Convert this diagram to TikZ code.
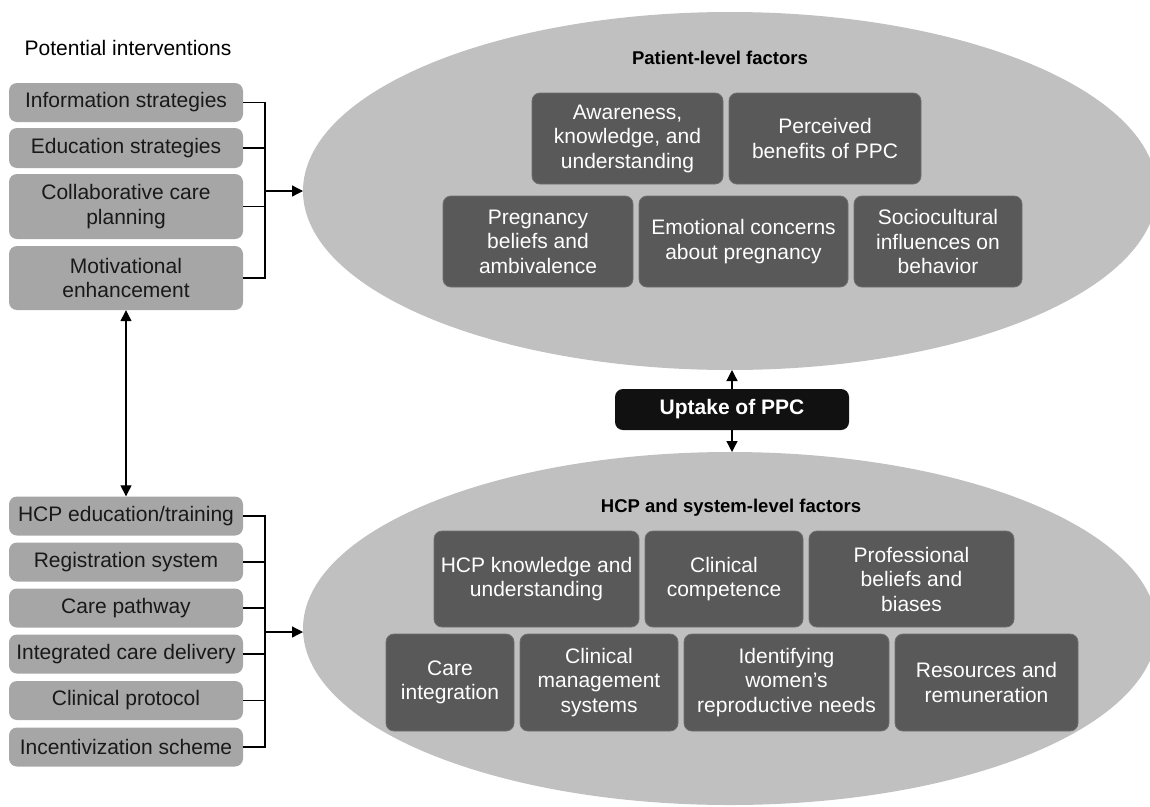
\documentclass[tikz,border=0pt]{standalone}
\usepackage{fontspec}
\setmainfont{Liberation Sans}
\usetikzlibrary{shapes.geometric,arrows.meta,calc}

\definecolor{ovalgray}{HTML}{C0C0C0}
\definecolor{factorgray}{HTML}{595959}
\definecolor{edgegray}{HTML}{6E6E6E}
\definecolor{intgray}{HTML}{A6A6A6}
\definecolor{uptakeblack}{HTML}{111111}

\begin{document}
\begin{tikzpicture}[x=1pt,y=-1pt,
        font=\fontsize{21}{24.5}\selectfont,
        oval/.style={ellipse,fill=ovalgray,inner sep=0pt,outer sep=0pt},
        factor/.style={rounded corners=8pt,fill=factorgray,draw=edgegray,line width=0.8pt,
            text=white,align=center,inner sep=2pt},
        interv/.style={rounded corners=8pt,fill=intgray,text=black!90,align=center,
            minimum width=234pt,inner sep=2pt},
        heading/.style={font=\fontsize{18.5}{22}\selectfont\bfseries},
        link/.style={line width=1.3pt},
        tip/.style={link,-{Triangle[length=11pt,width=11pt]}},
        dtip/.style={link,{Triangle[length=11pt,width=11pt]}-{Triangle[length=11pt,width=11pt]}}]
                        \useasboundingbox (0,0) rectangle (1150,806);
                        % the two factor ovals
                        \node [oval,minimum width=854pt,minimum height=358pt] (patient) at (730,191) {};
                        \node [oval,minimum width=854pt,minimum height=353pt] (hcpf) at (730,628.5) {};
                        \node [heading] (ptitle) at (720,58) {Patient-level factors};
                        \node [heading] (htitle) at (731,508) {HCP and system-level factors};
                        % patient-level factors
                        \node [factor,minimum width=191pt,minimum height=91pt] (aware) at (627.5,138.5) {Awareness,\\knowledge, and\\understanding};
                        \node [factor,minimum width=192pt,minimum height=91pt] (perceiv) at (825,138.5) {Perceived\\benefits of PPC};
                        \node [factor,minimum width=190pt,minimum height=91pt] (pregn) at (538,241.5) {Pregnancy\\beliefs and\\ambivalence};
                        \node [factor,minimum width=209pt,minimum height=91pt] (emot) at (743.5,241.5) {Emotional concerns\\about pregnancy};
                        \node [factor,minimum width=168pt,minimum height=91pt] (socio) at (938,241.5) {Sociocultural\\influences on\\behavior};
                        % HCP and system-level factors
                        \node [factor,minimum width=205pt,minimum height=96pt] (hcpknow) at (536.5,579) {HCP knowledge and\\understanding};
                        \node [factor,minimum width=158pt,minimum height=96pt] (clincomp) at (724,579) {Clinical\\competence};
                        \node [factor,minimum width=205pt,minimum height=96pt] (profbel) at (911.5,579) {Professional\\beliefs and\\biases};
                        \node [factor,minimum width=128pt,minimum height=97pt] (careint) at (450,682.5) {Care\\integration};
                        \node [factor,minimum width=158pt,minimum height=97pt] (clinman) at (599,682.5) {Clinical\\management\\systems};
                        \node [factor,minimum width=205pt,minimum height=97pt] (ident) at (786.5,682.5) {Identifying\\women’s\\reproductive needs};
                        \node [factor,minimum width=183pt,minimum height=97pt] (resour) at (986.5,682.5) {Resources and\\remuneration};
                        % uptake in the middle
                        \node [rounded corners=8pt,fill=uptakeblack,text=white,font=\fontsize{21}{24.5}\selectfont\bfseries,
                            minimum width=234pt,minimum height=41pt] (uptake) at (732,409.5) {Uptake of PPC};
                        \draw [tip] (uptake.north) -- (uptake.north |- patient.south);
                        \draw [tip] (uptake.south) -- (uptake.south |- hcpf.north);
                        % potential interventions
                        \node (ititle) at (128,48) {Potential interventions};
                        \node [interv,minimum height=39pt] (info) at (126,102.5) {Information strategies};
                        \node [interv,minimum height=40pt] (educ) at (126,148) {Education strategies};
                        \node [interv,minimum height=65pt] (collab) at (126,206.5) {Collaborative care\\planning};
                        \node [interv,minimum height=64pt] (motiv) at (126,278) {Motivational\\enhancement};
                        \foreach \n/\y/\t in {hcpedu/516/{HCP education/training},regsys/562/{Registration system},
                            carepath/608/{Care pathway},integr/654/{Integrated care delivery},
                            clinprot/700.5/{Clinical protocol},incent/747/{Incentivization scheme}}
                        {
                            \node [interv,minimum height=39pt] (\n) at (126,\y) {\t};
                        }
                        % brackets and arrows
                        \coordinate (jt) at (265,191);
                        \coordinate (jb) at (265,632);
                        \foreach \b in {info,educ,collab,motiv}
                            \draw [link] (\b.east) -| (jt);
                        \foreach \b in {hcpedu,regsys,carepath,integr,clinprot,incent}
                            \draw [link] (\b.east) -| (jb);
                        \draw [tip] (jt) -- (patient.west);
                        \draw [tip] (jb) -- (jb -| hcpf.west);
                        \draw [dtip] (motiv.south) -- (hcpedu.north);
                    \end{tikzpicture}
\end{document}
